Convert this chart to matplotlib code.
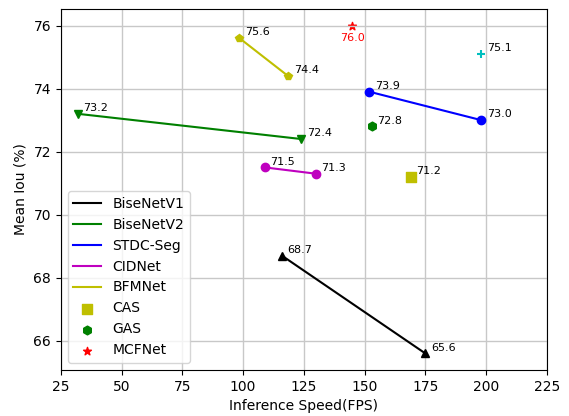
import matplotlib
matplotlib.use("Agg")
import matplotlib.pyplot as plt

bisev1_fps = [116, 175]
bisev1_miou = [68.7, 65.6]
bisev2_fps = [32, 124]
bisev2_miou = [73.2, 72.4]
stdc_fps = [152, 198]
stdc_miou = [73.9, 73.0]
cid_fps = [109, 130]
cid_miou = [71.5, 71.3]
bfm_fps = [98.5, 118.5]
bfm_miou = [75.6, 74.4]
cas_fps, cas_miou = [169], [71.2]
gas_fps, gas_miou = [153], [72.8]
mcf_fps, mcf_miou = [145], [76.0]
extra_fps, extra_miou = [198], [75.1]

fig = plt.figure(figsize=(5.69, 4.16), dpi=100)
ax = fig.add_axes([0.107, 0.111, 0.854, 0.867])

series = [
    (bisev1_fps, bisev1_miou, 'k', '^', 'BiseNetV1'),
    (bisev2_fps, bisev2_miou, 'g', 'v', 'BiseNetV2'),
    (stdc_fps, stdc_miou, 'b', 'o', 'STDC-Seg'),
    (cid_fps, cid_miou, 'm', 'o', 'CIDNet'),
    (bfm_fps, bfm_miou, 'y', 'p', 'BFMNet'),
]
for xs, ys, c, m, name in series:
    ax.plot(xs, ys, color=c, label=name)
    ax.plot(xs, ys, color=c, marker=m, linestyle='none')
    for x, y in zip(xs, ys):
        ax.annotate(f'{y:.1f}', (x, y), xytext=(4, 2), textcoords='offset points', fontsize=8)

ax.scatter(cas_fps, cas_miou, color='y', marker='s', s=50, label='CAS')
ax.scatter(gas_fps, gas_miou, color='g', marker='h', s=40, label='GAS')
ax.scatter(mcf_fps, mcf_miou, color='r', marker='*', s=35, label='MCFNet')
ax.scatter(extra_fps, extra_miou, color='c', marker='+', s=40)

for xs, ys in [(cas_fps, cas_miou), (gas_fps, gas_miou), (extra_fps, extra_miou)]:
    for x, y in zip(xs, ys):
        ax.annotate(f'{y:.1f}', (x, y), xytext=(4, 2), textcoords='offset points', fontsize=8)
ax.annotate(f'{mcf_miou[0]:.1f}', (mcf_fps[0], mcf_miou[0]), xytext=(0, -11),
            textcoords='offset points', fontsize=8, color='r', ha='center')

ax.set_xlim(25, 225)
ax.set_xticks(range(25, 226, 25))
ax.grid(True, linewidth=1, color='#c8c8c8')
ax.set_xlabel('Inference Speed(FPS)')
ax.set_ylabel('Mean Iou (%)')
ax.legend(loc='lower left')

fig.savefig('out.png', dpi=100)
